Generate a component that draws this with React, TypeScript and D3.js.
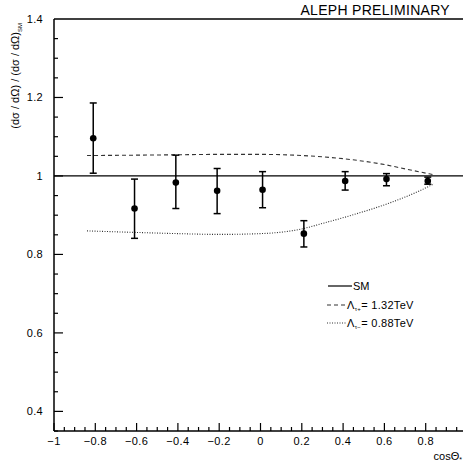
import React from "react";
import * as d3 from "d3";

const W = 463;
const H = 464;

const pointX = [-0.81, -0.61, -0.41, -0.21, 0.01, 0.21, 0.41, 0.61, 0.81];
const pointY = [1.096, 0.917, 0.983, 0.962, 0.965, 0.853, 0.987, 0.992, 0.987];
const errHigh = [1.186, 0.992, 1.053, 1.019, 1.011, 0.886, 1.011, 1.006, 0.997];
const errLow = [1.007, 0.841, 0.917, 0.904, 0.919, 0.819, 0.964, 0.975, 0.979];

const plusX = [-0.84, -0.6, -0.4, -0.2, 0.0, 0.2, 0.4, 0.6, 0.7, 0.84];
const plusY = [1.052, 1.053, 1.054, 1.055, 1.055, 1.052, 1.044, 1.029, 1.018, 1.003];
const minusX = [-0.84, -0.6, -0.4, -0.2, 0.0, 0.2, 0.3, 0.48, 0.63, 0.77, 0.84];
const minusY = [0.86, 0.856, 0.853, 0.851, 0.853, 0.865, 0.879, 0.906, 0.932, 0.962, 0.98];

const xTickLabels = ["−1", "−0.8", "−0.6", "−0.4", "−0.2", "0", "0.2", "0.4", "0.6", "0.8"];
const xTickValues = [-1, -0.8, -0.6, -0.4, -0.2, 0, 0.2, 0.4, 0.6, 0.8];
const yTickLabels = ["0.4", "0.6", "0.8", "1", "1.2", "1.4"];
const yTickValues = [0.4, 0.6, 0.8, 1.0, 1.2, 1.4];

const FONT = "'Liberation Sans', Arial, Helvetica, sans-serif";

export default function App() {
  const x = d3.scaleLinear().domain([-1, 1]).range([54, 467]);
  const y = d3.scaleLinear().domain([0.35, 1.4]).range([431, 19]);

  const xMinor = d3.range(-1, 1.0001, 0.05).map((v) => +v.toFixed(2));
  const yMinor = d3.range(0.35, 1.4001, 0.05).map((v) => +v.toFixed(2));

  const line = d3
    .line<[number, number]>()
    .x((d) => x(d[0]))
    .y((d) => y(d[1]))
    .curve(d3.curveMonotoneX);

  const plusPath = line(plusX.map((v, i) => [v, plusY[i]] as [number, number])) || "";
  const minusPath = line(minusX.map((v, i) => [v, minusY[i]] as [number, number])) || "";

  const isMajor = (v: number, step: number) => Math.abs(v / step - Math.round(v / step)) < 1e-6;

  return (
    <svg
      width={W}
      height={H}
      style={{ position: "absolute", left: 0, top: 0, background: "#fff" }}
      fontFamily={FONT}
    >
      <rect x={0} y={0} width={W} height={H} fill="#fff" />
      {/* frame */}
      <line x1={54} x2={W} y1={y(1.4)} y2={y(1.4)} stroke="#000" strokeWidth={1.5} />
      <line x1={54} x2={54} y1={y(1.4)} y2={y(0.35)} stroke="#000" strokeWidth={1.5} />
      <line x1={54} x2={W} y1={y(0.35)} y2={y(0.35)} stroke="#000" strokeWidth={1.5} />

      {/* x ticks */}
      {xMinor.map((v, i) => {
        const major = isMajor(v, 0.2);
        return (
          <line
            key={"xm" + i}
            x1={x(v)}
            x2={x(v)}
            y1={y(0.35)}
            y2={y(0.35) - (major ? 8 : 4)}
            stroke="#000"
            strokeWidth={1.2}
          />
        );
      })}
      {xTickValues.map((v, i) => (
        <text key={"xl" + i} x={x(v)} y={445} fontSize={11} textAnchor="middle" letterSpacing={0.4}>
          {xTickLabels[i]}
        </text>
      ))}

      {/* y ticks */}
      {yMinor.map((v, i) => {
        if (v >= 1.399) return null;
        const major = isMajor(v, 0.2);
        return (
          <line
            key={"ym" + i}
            x1={54}
            x2={54 + (major ? 9 : 4)}
            y1={y(v)}
            y2={y(v)}
            stroke="#000"
            strokeWidth={1.2}
          />
        );
      })}
      {yTickValues.map((v, i) => (
        <text key={"yl" + i} x={43} y={y(v) + 4} fontSize={11} textAnchor="end" letterSpacing={0.3}>
          {yTickLabels[i]}
        </text>
      ))}

      {/* axis titles */}
      <text x={462} y={460} fontSize={11} textAnchor="end">
        cosΘ
        <tspan fontSize={7} dy={2}>*</tspan>
      </text>
      <text transform="translate(19,23) rotate(-90)" fontSize={11} textAnchor="end">
        (dσ / dΩ) / (dσ / dΩ)
        <tspan fontSize={6} dy={3}>SM</tspan>
      </text>

      <text x={450} y={15} fontSize={14} textAnchor="end" letterSpacing={0.3}>
        ALEPH PRELIMINARY
      </text>

      {/* SM line */}
      <line x1={54} x2={W} y1={y(1)} y2={y(1)} stroke="#000" strokeWidth={1.3} />

      {/* model curves */}
      <path d={plusPath} fill="none" stroke="#333" strokeWidth={1.1} strokeDasharray="4,3" />
      <path d={minusPath} fill="none" stroke="#333" strokeWidth={1.1} strokeDasharray="1,1.5" />

      {/* data points */}
      {pointX.map((v, i) => (
        <g key={"p" + i}>
          <line x1={x(v)} x2={x(v)} y1={y(errLow[i])} y2={y(errHigh[i])} stroke="#000" strokeWidth={1.5} />
          <line x1={x(v) - 3.5} x2={x(v) + 3.5} y1={y(errLow[i])} y2={y(errLow[i])} stroke="#000" strokeWidth={1.5} />
          <line x1={x(v) - 3.5} x2={x(v) + 3.5} y1={y(errHigh[i])} y2={y(errHigh[i])} stroke="#000" strokeWidth={1.5} />
          <circle cx={x(v)} cy={y(pointY[i])} r={3.3} fill="#000" />
        </g>
      ))}

      {/* legend */}
      <line x1={328} x2={352} y1={286} y2={286} stroke="#000" strokeWidth={1.2} />
      <text x={353} y={290} fontSize={11}>SM</text>
      <line x1={327} x2={347} y1={305} y2={305} stroke="#333" strokeWidth={1.1} strokeDasharray="4,3" />
      <text x={347} y={309} fontSize={11} letterSpacing={0.3}>
        Λ<tspan fontSize={6} dy={2}>τ+</tspan>
        <tspan dy={-2}>= 1.32TeV</tspan>
      </text>
      <line x1={327} x2={347} y1={323} y2={323} stroke="#333" strokeWidth={1.1} strokeDasharray="1,1.5" />
      <text x={347} y={327} fontSize={11} letterSpacing={0.3}>
        Λ<tspan fontSize={6} dy={2}>τ−</tspan>
        <tspan dy={-2}>= 0.88TeV</tspan>
      </text>
    </svg>
  );
}
